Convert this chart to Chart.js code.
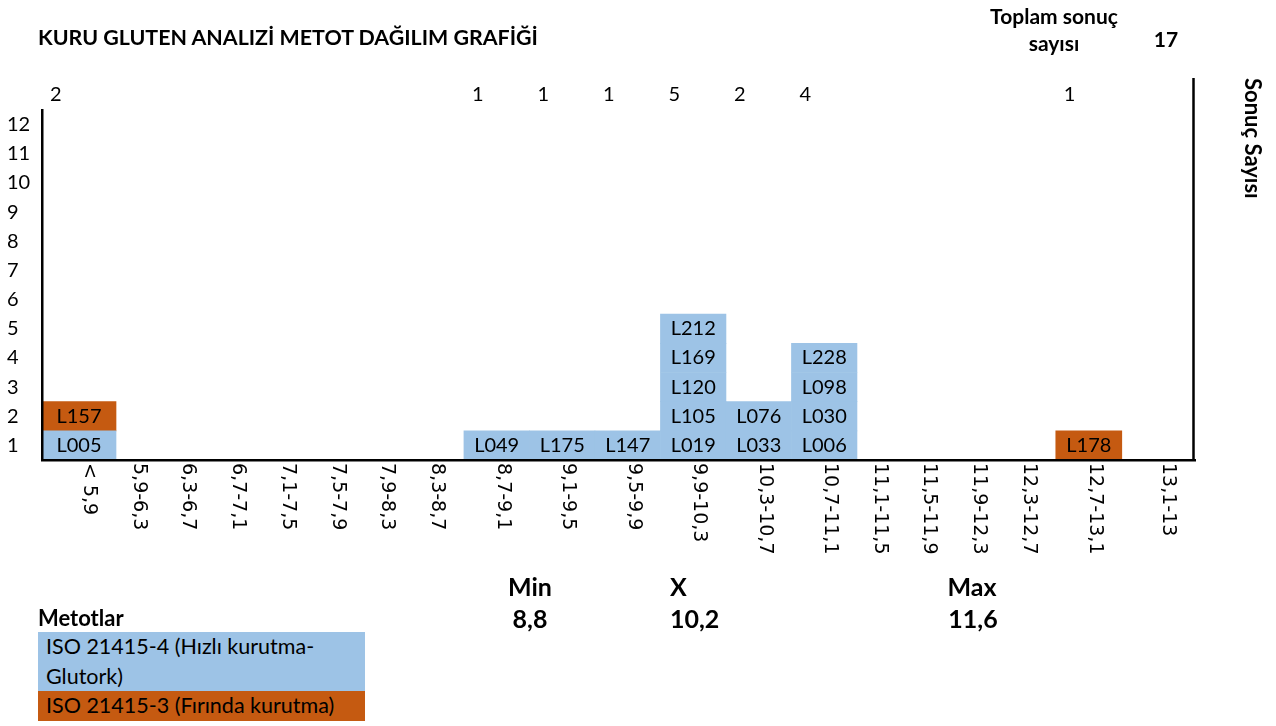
<!DOCTYPE html>
<html>
<head>
<meta charset="utf-8">
<script src="https://cdn.jsdelivr.net/npm/chart.js@4.4.1/dist/chart.umd.min.js"></script>
<style>
  body { margin: 0; background: #fff; color: #000; font-family: Lato, "Noto Sans", sans-serif; }
  #wrap { position: relative; width: 1276px; height: 726px; overflow: hidden; }
  #chart-gluten { position: absolute; left: 0; top: 0; }
  .txt { position: absolute; white-space: nowrap; line-height: 1; font-size: 20px; }
  .bold { font-weight: bold; }
  .legend-cell { position: absolute; left: 38px; width: 319px; padding-left: 8px; font-size: 21.5px; line-height: 29.5px; }
</style>
</head>
<body>
<div id="wrap">
  <canvas id="chart-gluten" width="1276" height="726"></canvas>
</div>
<script>
// histogram classes (x axis)
const categories = ["< 5,9", "5,9-6,3", "6,3-6,7", "6,7-7,1", "7,1-7,5", "7,5-7,9", "7,9-8,3", "8,3-8,7",
  "8,7-9,1", "9,1-9,5", "9,5-9,9", "9,9-10,3", "10,3-10,7", "10,7-11,1",
  "11,1-11,5", "11,5-11,9", "11,9-12,3", "12,3-12,7", "12,7-13,1", "13,1-13"];

// lab codes in each class, bottom to top
const labCodes = [
  ["L005", "L157"], [], [], [], [], [], [], [],
  ["L049"], ["L175"], ["L147"], ["L019", "L105", "L120", "L169", "L212"], ["L033", "L076"], ["L006", "L030", "L098", "L228"],
  [], [], [], [], ["L178"], []
];

// labs that used the oven method (ISO 21415-3), all others used ISO 21415-4
const ovenLabs = ["L157", "L178"];

const yTicks = [1, 2, 3, 4, 5, 6, 7, 8, 9, 10, 11, 12];
const methodNames = ["ISO 21415-4 (Hızlı kurutma-Glutork)", "ISO 21415-3 (Fırında kurutma)"];
const statLabels = ["Min", "X", "Max"];
const statValues = ["8,8", "10,2", "11,6"];

// spreadsheet column widths of the classes (layout only)
const colWidths = [74, 49.7, 49.7, 49.7, 49.7, 49.7, 49.7, 49.7, 65.5, 65.5, 65.5, 65.5, 65.5, 65.5,
  49.7, 49.7, 49.7, 49.7, 66, 73.2];

const BLUE = "#9DC3E6";
const ORANGE = "#C55A11";

const colEdges = [0];
colWidths.forEach(w => colEdges.push(colEdges[colEdges.length - 1] + w));
const maxLevel = Math.max(...labCodes.map(c => c.length));
const totalResults = labCodes.reduce((s, c) => s + c.length, 0);

// one dataset per stack level; an empty point on each column's left edge lets 'flex' fill the whole column
const datasets = [];
for (let k = 0; k < maxLevel; k++) {
  const data = [];
  categories.forEach((cat, i) => {
    data.push({ x: colEdges[i], y: null });
    data.push({ x: colEdges[i] + colWidths[i] / 2, y: labCodes[i].length > k ? 1 : null });
  });
  datasets.push({
    label: "Seviye " + (k + 1),
    data: data,
    stack: "cells",
    barThickness: "flex",
    categoryPercentage: 2,
    barPercentage: 1,
    borderWidth: 0,
    backgroundColor: function(ctx) {
      const code = labCodes[Math.floor(ctx.dataIndex / 2)][k];
      return ovenLabs.includes(code) ? ORANGE : BLUE;
    }
  });
}

const cellTextPlugin = {
  id: "cellText",
  afterDatasetsDraw(chart) {
    const ctx = chart.ctx;
    ctx.save();
    ctx.fillStyle = "#000";
    ctx.font = "20px Lato";
    ctx.textAlign = "center";
    ctx.textBaseline = "middle";
    for (let k = 0; k < maxLevel; k++) {
      chart.getDatasetMeta(k).data.forEach((bar, j) => {
        if (j % 2 === 0) return;
        const code = labCodes[(j - 1) / 2][k];
        if (!code) return;
        ctx.fillText(code, bar.x, (bar.y + bar.base) / 2);
      });
    }
    ctx.restore();
  },
  afterDraw(chart) {
    const ctx = chart.ctx;
    const area = chart.chartArea;
    const xs = chart.scales.x;
    ctx.save();
    // counts per class above the plot
    ctx.fillStyle = "#000";
    ctx.font = "20px Lato";
    ctx.textAlign = "left";
    ctx.textBaseline = "middle";
    labCodes.forEach((codes, i) => {
      if (codes.length) ctx.fillText(String(codes.length), xs.getPixelForValue(colEdges[i]) + 8, area.top - 15);
    });
    // class labels, rotated clockwise
    ctx.font = "19px 'DejaVu Sans'";
    categories.forEach((cat, i) => {
      ctx.save();
      ctx.translate(xs.getPixelForValue(colEdges[i + 1]) - 27, area.bottom + 3);
      ctx.rotate(Math.PI / 2);
      ctx.fillText(cat, 0, 0);
      ctx.restore();
    });
    // right frame line
    ctx.strokeStyle = "#000";
    ctx.lineWidth = 2.5;
    ctx.beginPath();
    ctx.moveTo(area.right - 1.5, area.top - 32);
    ctx.lineTo(area.right - 1.5, area.bottom + 1);
    ctx.stroke();
    // axis title on the right
    ctx.font = "bold 22px Lato";
    ctx.translate(area.right + 57, area.top - 32);
    ctx.rotate(Math.PI / 2);
    ctx.fillText("Sonuç Sayısı", 0, 0);
    ctx.restore();
  }
};

new Chart(document.getElementById("chart-gluten").getContext("2d"), {
  type: "bar",
  data: { datasets: datasets },
  options: {
    responsive: false,
    animation: false,
    layout: { padding: { left: 7, right: 81, top: 110, bottom: 266 } },
    plugins: { legend: { display: false }, tooltip: { enabled: false } },
    scales: {
      x: {
        type: "linear",
        offset: false,
        min: 0,
        max: colEdges[colEdges.length - 1],
        stacked: true,
        grid: { display: false, drawTicks: false, offset: false },
        ticks: { display: false },
        border: { display: true, color: "#000", width: 2.5, z: 1 },
        afterFit: s => { s.height = 0; }
      },
      y: {
        type: "linear",
        min: 0,
        max: 12,
        stacked: true,
        grid: { display: false, drawTicks: false },
        border: { display: true, color: "#000", width: 2.5, z: 1 },
        afterBuildTicks: s => { s.ticks = yTicks.map(v => ({ value: v - 0.5 })); },
        ticks: {
          autoSkip: false,
          crossAlign: "far",
          padding: 0,
          color: "#000",
          font: { family: "Lato", size: 20 },
          callback: (v, i) => yTicks[i]
        },
        afterFit: s => { s.width = 35; }
      }
    }
  },
  plugins: [cellTextPlugin]
});

// texts around the chart
const wrap = document.getElementById("wrap");
function addText(text, x, y, align, size) {
  const el = document.createElement("div");
  el.className = "txt bold";
  el.textContent = text;
  el.style.left = x + "px";
  el.style.top = y + "px";
  el.style.fontSize = size + "px";
  const tx = align === "center" ? "-50%" : "0";
  el.style.transform = "translate(" + tx + ", -50%)";
  wrap.appendChild(el);
  return el;
}
addText("KURU GLUTEN ANALIZİ METOT DAĞILIM GRAFİĞİ", 38, 38, "left", 21.4);
addText("Toplam sonuç", 1054, 15, "center", 21);
addText("sayısı", 1054, 42, "center", 21);
addText(String(totalResults), 1166, 38, "center", 21);
addText(statLabels[0], 530, 586, "center", 25);
addText(statLabels[1], 670, 586, "left", 25);
addText(statLabels[2], 972, 586, "center", 25);
addText(statValues[0], 530, 618, "center", 25);
addText(statValues[1], 670, 618, "left", 25);
addText(statValues[2], 973, 618, "center", 25);
addText("Metotlar", 38, 618, "left", 22);

const legendColors = [BLUE, ORANGE];
let legendTop = 632;
methodNames.forEach((name, i) => {
  const el = document.createElement("div");
  el.className = "legend-cell";
  el.style.top = legendTop + "px";
  el.style.background = legendColors[i];
  el.textContent = name;
  wrap.appendChild(el);
  legendTop += el.offsetHeight;
});
</script>
</body>
</html>
